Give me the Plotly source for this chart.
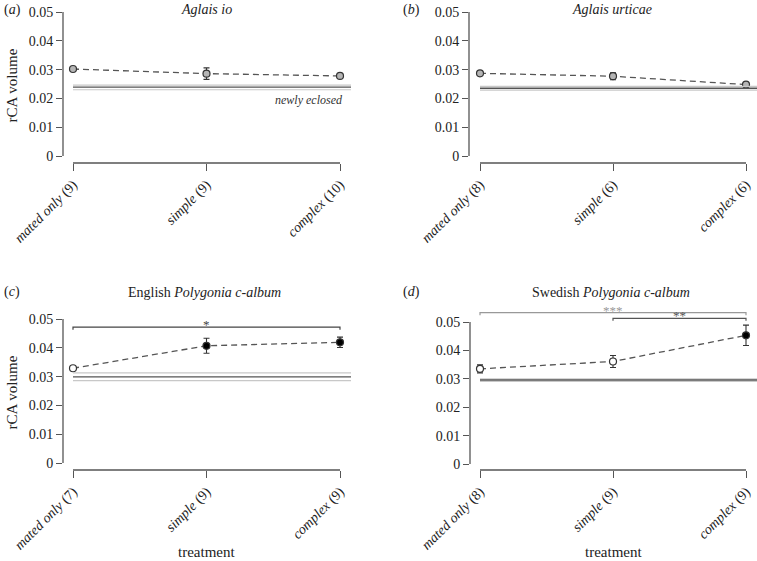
import plotly.graph_objects as go

W, H = 757, 561

# ---------------- data ----------------
categories = ["mated only", "simple", "complex"]

n_a = [9, 9, 10]
mean_a = [0.0302, 0.0286, 0.0278]
err_a = [0.0003, 0.0020, 0.0005]
newly_a = [0.0239, 0.0246, 0.0230]  # mean, upper, lower

n_b = [8, 6, 6]
mean_b = [0.0287, 0.0277, 0.0248]
err_b = [0.0003, 0.0012, 0.0006]
newly_b = [0.0235, 0.0242, 0.0229]

n_c = [7, 9, 9]
mean_c = [0.0329, 0.0407, 0.0419]
err_c = [0.0003, 0.0026, 0.0018]
filled_c = [False, True, True]
newly_c = [0.0299, 0.0313, 0.0286]

n_d = [8, 9, 9]
mean_d = [0.0335, 0.0361, 0.0453]
err_d = [0.0014, 0.0021, 0.0036]
filled_d = [False, False, True]
newly_d = [0.0296, 0.0300, 0.0291]

y_ticks = [0, 0.01, 0.02, 0.03, 0.04, 0.05]
y_ticktext = ["0", "0.01", "0.02", "0.03", "0.04", "0.05"]

FONT = "Liberation Serif"

# panel geometry in pixels
panels = [
    dict(key="a", left=63, cat0=73, cat2=340, right=351, y0=156, scale=2880, xaxis_px=163,
         yr=(-0.002, 0.052), n=n_a, mean=mean_a, err=err_a, filled=[False] * 3, fill="#b5b5b5",
         newly=newly_a, title="<i>Aglais io</i>", tx=206, ty=10, label="(<i>a</i>)", lx=2,
         ylab=True, xlab=False),
    dict(key="b", left=469, cat0=480, cat2=746, right=757, y0=156, scale=2880, xaxis_px=163,
         yr=(-0.002, 0.052), n=n_b, mean=mean_b, err=err_b, filled=[False] * 3, fill="#b5b5b5",
         newly=newly_b, title="<i>Aglais urticae</i>", tx=612, ty=10, label="(<i>b</i>)", lx=401,
         ylab=False, xlab=False),
    dict(key="c", left=63, cat0=73, cat2=340, right=351, y0=463, scale=2880, xaxis_px=470,
         yr=(-0.002, 0.052), n=n_c, mean=mean_c, err=err_c, filled=filled_c, fill="white",
         newly=newly_c, title="English <i>Polygonia c-album</i>", tx=205, ty=292, label="(<i>c</i>)", lx=2,
         ylab=True, xlab=True),
    dict(key="d", left=470, cat0=480, cat2=746, right=757, y0=464, scale=2840, xaxis_px=470,
         yr=(-0.002, 0.0555), n=n_d, mean=mean_d, err=err_d, filled=filled_d, fill="white",
         newly=newly_d, title="Swedish <i>Polygonia c-album</i>", tx=611, ty=292, label="(<i>d</i>)", lx=401,
         ylab=False, xlab=True),
]

fig = go.Figure()
layout = dict(
    width=W, height=H, margin=dict(l=0, r=0, t=0, b=0, autoexpand=False),
    paper_bgcolor="white", plot_bgcolor="white", showlegend=False, hovermode=False,
    font=dict(family=FONT, size=14, color="#222"),
)
shapes = []
annotations = []
AX = "#555"

for i, p in enumerate(panels):
    xs = "" if i == 0 else str(i + 1)
    xname, yname = "x" + xs, "y" + xs
    unit = (p["cat2"] - p["cat0"]) / 2.0
    xlo = -(p["cat0"] - p["left"]) / unit
    xhi = 2 + (p["right"] - p["cat2"]) / unit
    ylo, yhi = p["yr"]
    top_px = p["y0"] - yhi * p["scale"]
    bot_px = p["y0"] - ylo * p["scale"]
    ydom = [1 - bot_px / H, 1 - top_px / H]
    xdom = [p["left"] / W, min(1.0, p["right"] / W)]

    ticktext = [f"<i>{c}</i> ({n})" for c, n in zip(categories, p["n"])]
    layout["xaxis" + xs] = dict(
        domain=xdom, range=[xlo, xhi], anchor="free", position=1 - p["xaxis_px"] / H,
        tickvals=[0, 1, 2], ticktext=ticktext, tickangle=-45, ticks="outside", ticklen=7,
        tickcolor=AX, tickwidth=1.3, showline=False, showgrid=False, zeroline=False,
        automargin=False, tickfont=dict(family=FONT, size=14, color="#222"),
    )
    layout["yaxis" + xs] = dict(
        domain=ydom, range=[ylo, yhi], anchor=xname, tickvals=y_ticks, ticktext=y_ticktext,
        ticks="outside", ticklen=6, tickcolor=AX, tickwidth=1.3, showline=False, showgrid=False,
        zeroline=False, automargin=False, tickfont=dict(family=FONT, size=14, color="#222"),
    )

    # axis lines (R style, detached)
    shapes.append(dict(type="line", xref=xname + " domain", yref=yname, x0=0, x1=0, y0=0, y1=0.05,
                       line=dict(color=AX, width=1.3)))
    shapes.append(dict(type="line", xref=xname, yref="paper", x0=0, x1=2,
                       y0=1 - p["xaxis_px"] / H, y1=1 - p["xaxis_px"] / H,
                       line=dict(color=AX, width=1.3)))

    # newly eclosed reference lines
    m, up, lo = p["newly"]
    for v, col, w in [(up, "#c8c8c8", 1.2), (lo, "#c8c8c8", 1.2), (m, "#555", 1.4)]:
        shapes.append(dict(type="line", xref=xname, yref=yname, x0=0, x1=xhi, y0=v, y1=v,
                           line=dict(color=col, width=w)))

    # dashed line + points
    fig.add_trace(go.Scatter(
        x=[0, 1, 2], y=p["mean"], mode="lines", xaxis=xname, yaxis=yname,
        line=dict(color="#555", width=1.3, dash="6px,4px"), hoverinfo="skip", cliponaxis=False,
    ))
    fills = ["black" if f else p["fill"] for f in p["filled"]]
    fig.add_trace(go.Scatter(
        x=[0, 1, 2], y=p["mean"], mode="markers", xaxis=xname, yaxis=yname,
        marker=dict(size=7, color=fills, line=dict(color="#333", width=1.2)),
        error_y=dict(type="data", array=p["err"], visible=True, color="#333", thickness=1.1, width=3),
        cliponaxis=False,
    ))

    # titles and labels
    annotations.append(dict(text=p["title"], xref="paper", yref="paper", x=p["tx"] / W, y=1 - p["ty"] / H,
                            xanchor="center", yanchor="middle", showarrow=False,
                            font=dict(family=FONT, size=14, color="#222")))
    annotations.append(dict(text=p["label"], xref="paper", yref="paper", x=p["lx"] / W, y=1 - p["ty"] / H,
                            xanchor="left", yanchor="middle", showarrow=False,
                            font=dict(family=FONT, size=14, color="#222")))
    if p["ylab"]:
        annotations.append(dict(text="rCA volume", xref="paper", yref="paper", x=12 / W,
                                y=1 - (p["y0"] - 0.0245 * p["scale"]) / H, textangle=-90,
                                xanchor="center", yanchor="middle", showarrow=False,
                                font=dict(family=FONT, size=15, color="#222")))
    if p["xlab"]:
        annotations.append(dict(text="treatment", xref="paper", yref="paper", x=(p["cat0"] + p["cat2"]) / 2 / W,
                                y=1 - 552 / H, xanchor="center", yanchor="middle", showarrow=False,
                                font=dict(family=FONT, size=15, color="#222")))

# newly eclosed label (panel a)
annotations.append(dict(text="<i>newly eclosed</i>", xref="x", yref="y", x=2.04, y=0.0195,
                        xanchor="right", yanchor="middle", showarrow=False,
                        font=dict(family=FONT, size=12, color="#333")))

# significance brackets
def bracket(xname, yname, x0, x1, y, drop, text, col, tx):
    shapes.append(dict(type="path", xref=xname, yref=yname,
                       path=f"M {x0},{y - drop} L {x0},{y} L {x1},{y} L {x1},{y - drop}",
                       line=dict(color=col, width=1.2)))
    annotations.append(dict(text=text, xref=xname, yref=yname, x=tx, y=y, xanchor="center",
                            yanchor="bottom", yshift=-7, showarrow=False,
                            font=dict(family=FONT, size=13, color=col)))

bracket("x3", "y3", 0, 2, 0.0472, 0.0009, "*", "#444", 1)
bracket("x4", "y4", 0, 2, 0.0533, 0.0009, "***", "#999", 1)
bracket("x4", "y4", 1, 2, 0.0513, 0.0009, "**", "#555", 1.5)

layout["shapes"] = shapes
layout["annotations"] = annotations
fig.update_layout(**layout)
fig.write_html("out.html", config={"displayModeBar": False},
               post_script="document.body.style.margin='0';document.body.style.overflow='hidden';")
